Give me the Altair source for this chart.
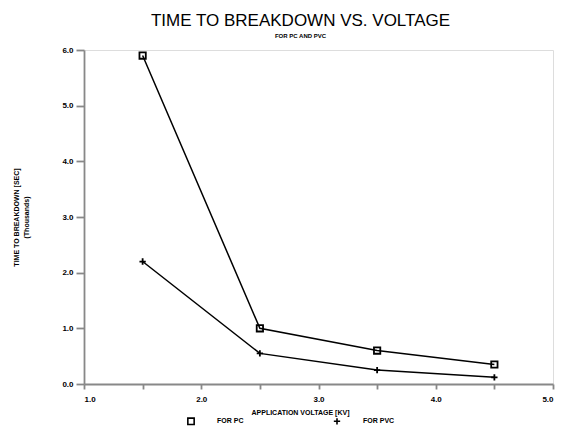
import altair as alt
import pandas as pd

voltage = [1.5, 2.5, 3.5, 4.5]
pc_time = [5.9, 1.0, 0.6, 0.35]
pvc_time = [2.2, 0.55, 0.25, 0.12]
series_names = ["FOR PC", "FOR PVC"]
x_ticks = [1.0, 1.5, 2.0, 2.5, 3.0, 3.5, 4.0, 4.5, 5.0]
y_ticks = [0, 1, 2, 3, 4, 5, 6]

rows = []
for v, a, b in zip(voltage, pc_time, pvc_time):
    rows.append({"voltage": v, "time": a, "series": series_names[0]})
    rows.append({"voltage": v, "time": b, "series": series_names[1]})
df = pd.DataFrame(rows)

FONT = "Liberation Sans"

x = alt.X("voltage:Q",
          scale=alt.Scale(domain=[1, 5], nice=False, zero=False),
          axis=alt.Axis(values=x_ticks,
                        labelExpr="datum.value % 1 == 0 ? format(datum.value, '.1f') : ''",
                        title="APPLICATION VOLTAGE [KV]",
                        titleX=216, titleY=28, titleBaseline="middle",
                        titleFontSize=7, titleFontWeight="bold",
                        labelFontSize=8, labelFontWeight="bold",
                        labelPadding=6, tickSize=5, domainWidth=1.8,
                        tickWidth=1.8, grid=False))
y = alt.Y("time:Q",
          scale=alt.Scale(domain=[0, 6], nice=False),
          axis=alt.Axis(values=y_ticks, format=".1f",
                        title=["TIME TO BREAKDOWN [SEC]", "(Thousands)"],
                        titleFontSize=7, titleFontWeight="bold",
                        titleLineHeight=10, titlePadding=32,
                        labelFontSize=8, labelFontWeight="bold",
                        labelPadding=3, tickSize=8, domainWidth=1.8,
                        tickWidth=1.8, grid=False))

shape = alt.Shape("series:N",
                  scale=alt.Scale(domain=series_names, range=["square", "M-1,0H1M0,-1V1"]),
                  legend=alt.Legend(title=None, orient="none", direction="horizontal",
                                    legendX=103, legendY=367,
                                    labelFontSize=7, labelFontWeight="bold",
                                    labelOffset=22, columnPadding=86,
                                    symbolStrokeColor="black", symbolFillColor="white",
                                    symbolStrokeWidth=1.6, symbolSize=40))

lines = alt.Chart(df).mark_line(color="black", strokeWidth=1.5).encode(
    x=x, y=y, detail="series:N")
points = alt.Chart(df).mark_point(filled=False, color="black", strokeWidth=1.8, size=40, opacity=1).encode(
    x=x, y=y, shape=shape)

chart = alt.layer(lines, points).properties(
    width=469, height=334,
    title=alt.TitleParams("TIME TO BREAKDOWN VS. VOLTAGE",
                          subtitle="FOR PC AND PVC",
                          font=FONT, fontSize=17, fontWeight="normal",
                          subtitleFont=FONT, subtitleFontSize=6, subtitleFontWeight="bold",
                          subtitlePadding=3, anchor="middle", dx=-18, offset=6,
                          color="black", subtitleColor="black"),
    autosize=alt.AutoSizeParams(type="none"),
    padding={"left": 76, "top": 42, "right": 8, "bottom": 45},
).configure_axis(
    labelFont=FONT, titleFont=FONT, labelColor="black", titleColor="black",
    domainColor="black", tickColor="black"
).configure_legend(labelFont=FONT, labelColor="black").configure_view(
    stroke="black", strokeWidth=1.5
).configure(background="white")

chart.save("out.html", embed_options={"renderer": "svg", "actions": False})
